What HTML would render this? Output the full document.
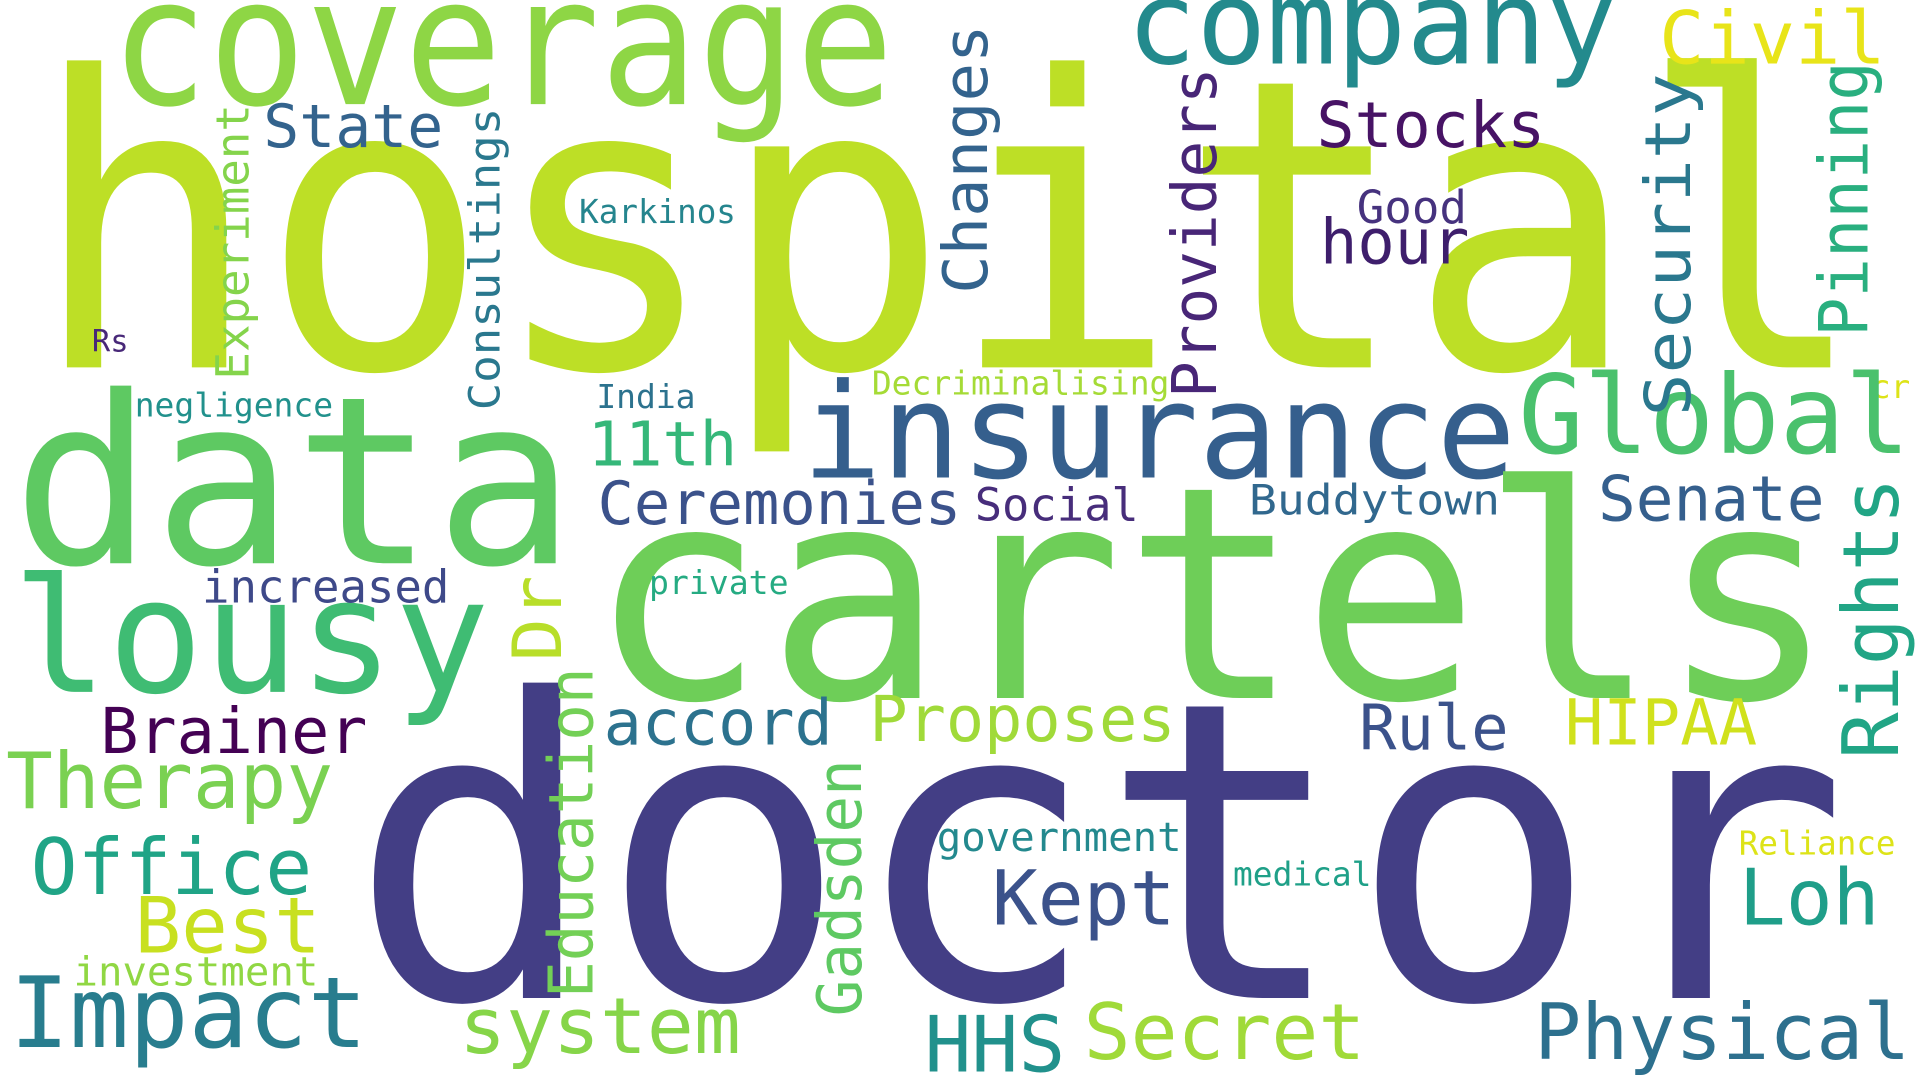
<!DOCTYPE html>
<html><head><meta charset="utf-8"><style>
html,body{margin:0;padding:0;background:#fff;width:1920px;height:1080px;overflow:hidden}
svg{display:block}
text{font-family:"DejaVu Sans Mono","Liberation Mono",monospace}
</style></head><body>
<svg id="cloud" width="1920" height="1080" viewBox="0 0 1568 882" xmlns="http://www.w3.org/2000/svg">
<rect width="1568" height="882" fill="#fff"/>
</svg>
<script>
// word, x, baseline y, font size, text length, color, rotated
const words = ["hospital","coverage","company","Civil","State","Stocks","Karkinos","Good","hour","Rs","negligence","India","Decriminalising","cr","data","insurance","Global","11th","Ceremonies","Social","Buddytown","Senate","cartels","lousy","increased","private","Brainer","Therapy","accord","Proposes","Rule","HIPAA","doctor","Office","Best","investment","Impact","government","Kept","medical","Reliance","Loh","system","HHS","Secret","Physical","Experiment","Consultings","Changes","Providers","Security","Pinning","Dr","Education","Gadsden","Rights"];
const xs = [25,90,920,1355,215,1075,473,1108,1078,75,110,487,712,1528,10,655,1240,480,488,796,1020,1305,480,10,165,530,82,5,493,710,1110,1278,285,25,110,60,8,765,810,1007,1420,1420,375,755,885,1253,203,408,806,993,1380,1525,458,484,703,1550];
const ys = [300,85,52,52,120,120,182,182,215,287,340,333,322,325,460,390,370,380,428,425,420,425,570,565,492,485,615,660,608,605,612,608,815,730,778,805,855,695,755,723,698,755,860,875,865,865,310,335,240,325,340,275,540,815,830,620];
const sizes = [330,145,95,60,49,52,27,37,51,25,27,27,27,26,191,108,89,50,49,37,34,51,242,130,37,27,52,63,52,52,51,52,339,63,63,33,80,33,62,27,27,63,63,63,63,63,37,35,50,50,52,55,55,50,50,63];
const lengths = [1500,640,400,185,147,187,128,90,122,30,162,81,243,32,460,583,320,122,297,134,205,185,1020,390,202,114,218,267,187,250,122,157,1225,230,152,200,292,200,150,113,128,115,230,115,230,307,225,247,220,270,280,225,70,270,210,230];
const colors = ["#bddf26","#8ed645","#238a8d","#e8e419","#33638d","#471365","#25858e","#46327e","#3e1e6c","#482878","#21918c","#2c728e","#a5db36","#dde318","#5ec962","#355f8d","#4ac16d","#35b779","#3b528b","#472d7b","#31688e","#355f8d","#6ece58","#3fbc73","#3e4989","#25ab82","#440154","#7ad151","#2c728e","#a0da39","#3b528b","#d0e11c","#433e85","#20a486","#c8e020","#90d743","#287d8e","#23898e","#3b528b","#1fa088","#dde318","#1f9e89","#86d549","#21918c","#a0da39","#2d708e","#84d44b","#2a788e","#33638d","#482677","#2a788e","#29af7f","#b8de29","#73d056","#5ec962","#21a585"];
const rotated = [0,0,0,0,0,0,0,0,0,0,0,0,0,0,0,0,0,0,0,0,0,0,0,0,0,0,0,0,0,0,0,0,0,0,0,0,0,0,0,0,0,0,0,0,0,0,1,1,1,1,1,1,1,1,1,1];
const svg = document.getElementById('cloud');
const NS = "http://www.w3.org/2000/svg";
for (let i = 0; i < words.length; i++) {
  const t = document.createElementNS(NS, 'text');
  
  
  t.setAttribute('font-size', sizes[i]);
  t.setAttribute('fill', colors[i]);
  t.setAttribute('textLength', lengths[i]);
  t.setAttribute('lengthAdjust', 'spacingAndGlyphs');
  if (rotated[i]) {
    t.setAttribute('x', 0);
    t.setAttribute('y', 0);
    t.setAttribute('transform', 'translate(' + xs[i] + ',' + ys[i] + ') rotate(-90)');
  } else {
    t.setAttribute('x', xs[i]);
    t.setAttribute('y', ys[i]);
  }
  t.textContent = words[i];
  svg.appendChild(t);
}
</script>
</body></html>
